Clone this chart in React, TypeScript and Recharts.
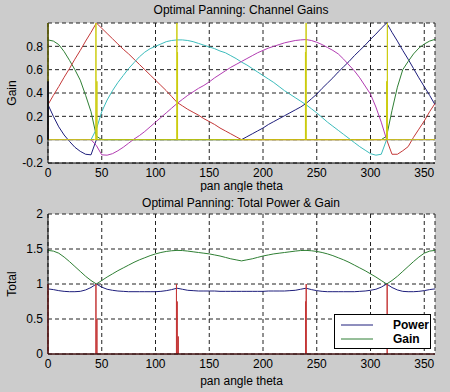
import { CartesianGrid, Line, LineChart, XAxis, YAxis } from "recharts";

// pan angle, 5 degree steps
const THETA = [
  0, 5, 10, 15, 20, 25, 30, 35, 40, 45, 50, 55, 60, 65, 70, 75, 80, 85, 90, 95,
  100, 105, 110, 115, 120, 125, 130, 135, 140, 145, 150, 155, 160, 165, 170,
  175, 180, 185, 190, 195, 200, 205, 210, 215, 220, 225, 230, 235, 240, 245,
  250, 255, 260, 265, 270, 275, 280, 285, 290, 295, 300, 305, 310, 315, 320,
  325, 330, 335, 340, 345, 350, 355, 360,
];

// channel gains (top plot)
const CH_BLUE = [
  0.3, 0.2, 0.11, 0.04, -0.015, -0.065, -0.1, -0.125, -0.13, 0,
  0, 0, 0, 0, 0, 0, 0, 0, 0, 0, 0, 0, 0, 0, 0, 0, 0, 0, 0, 0, 0, 0, 0, 0, 0, 0,
  0, 0.025, 0.05, 0.075, 0.1, 0.13, 0.155, 0.18, 0.205, 0.23, 0.255, 0.28,
  0.31, 0.35, 0.39, 0.44, 0.485, 0.53, 0.58, 0.625, 0.67, 0.72, 0.765, 0.81,
  0.86, 0.905, 0.955, 1.0, 0.92, 0.845, 0.765, 0.69, 0.61, 0.53, 0.455, 0.38,
  0.3,
];
const CH_GREEN = [
  0.855, 0.845, 0.815, 0.755, 0.68, 0.6, 0.51, 0.38, 0.24, 0.03,
  0, 0, 0, 0, 0, 0, 0, 0, 0, 0, 0, 0, 0, 0, 0, 0, 0, 0, 0, 0, 0, 0, 0, 0, 0, 0,
  0, 0, 0, 0, 0, 0, 0, 0, 0, 0, 0, 0, 0, 0, 0, 0, 0, 0, 0, 0, 0, 0, 0, 0, 0, 0,
  0, 0.03, 0.25, 0.45, 0.6, 0.67, 0.735, 0.785, 0.82, 0.845, 0.86,
];
const CH_RED = [
  0.3, 0.38, 0.455, 0.535, 0.61, 0.69, 0.765, 0.845, 0.92, 1.0, 0.955, 0.91,
  0.865, 0.82, 0.775, 0.735, 0.69, 0.645, 0.6, 0.555, 0.51, 0.465, 0.42, 0.37,
  0.32, 0.29, 0.26, 0.235, 0.21, 0.18, 0.155, 0.13, 0.1, 0.075, 0.05, 0.025, 0,
  0, 0, 0, 0, 0, 0, 0, 0, 0, 0, 0, 0, 0, 0, 0, 0, 0, 0, 0, 0, 0, 0, 0, 0, 0, 0,
  0, -0.125, -0.125, -0.095, -0.06, 0.02, 0.09, 0.16, 0.24, 0.31,
];
const CH_CYAN = [
  0, 0, 0, 0, 0, 0, 0, 0, 0, 0.09, 0.24, 0.34, 0.42, 0.49, 0.55, 0.61, 0.66,
  0.71, 0.75, 0.78, 0.8, 0.82, 0.84, 0.85, 0.855, 0.855, 0.85, 0.84, 0.825,
  0.81, 0.795, 0.78, 0.76, 0.745, 0.72, 0.695, 0.665, 0.64, 0.61, 0.58, 0.55,
  0.52, 0.49, 0.455, 0.42, 0.39, 0.36, 0.33, 0.3, 0.265, 0.23, 0.19, 0.15,
  0.115, 0.08, 0.045, 0.01, -0.025, -0.06, -0.09, -0.12, -0.133, -0.125, 0,
  0, 0, 0, 0, 0, 0, 0, 0, 0,
];
const CH_MAGENTA = [
  0, 0, 0, 0, 0, 0, 0, 0, 0, -0.05, -0.13, -0.133, -0.12, -0.095, -0.065,
  -0.03, 0.005, 0.035, 0.07, 0.11, 0.15, 0.19, 0.23, 0.27, 0.31, 0.345, 0.38,
  0.41, 0.44, 0.465, 0.495, 0.53, 0.56, 0.59, 0.62, 0.645, 0.67, 0.695, 0.72,
  0.745, 0.765, 0.785, 0.8, 0.815, 0.83, 0.84, 0.85, 0.855, 0.858, 0.85, 0.835,
  0.815, 0.79, 0.765, 0.735, 0.69, 0.64, 0.59, 0.53, 0.46, 0.39, 0.28, 0.15, 0,
  0, 0, 0, 0, 0, 0, 0, 0, 0,
];

// glitches at the speaker angles
const YELLOW_SPIKE_AT = [0, 44.6, 45.5, 119.9, 120.5, 239.5, 240.1, 315.1, 315.7];
const YELLOW_SPIKE_TOP = [1, 1, 0.5, 1, 0.75, 0.75, 1, 0.5, 1];
const BLUE_SPIKE_AT = [0];
const BLUE_SPIKE_TOP = [0.5];

// totals (bottom plot)
const TOTAL_POWER = [
  0.93, 0.92, 0.905, 0.895, 0.89, 0.89, 0.895, 0.915, 0.95, 1.0, 0.955, 0.925,
  0.91, 0.9, 0.895, 0.89, 0.89, 0.89, 0.89, 0.89, 0.89, 0.895, 0.905, 0.92,
  0.94, 0.925, 0.91, 0.905, 0.9, 0.9, 0.9, 0.9, 0.895, 0.895, 0.895, 0.895,
  0.895, 0.895, 0.895, 0.895, 0.895, 0.9, 0.9, 0.9, 0.9, 0.905, 0.91, 0.925,
  0.94, 0.92, 0.905, 0.895, 0.89, 0.89, 0.89, 0.89, 0.89, 0.89, 0.895, 0.9,
  0.91, 0.925, 0.955, 1.0, 0.95, 0.915, 0.895, 0.89, 0.89, 0.895, 0.905, 0.92,
  0.93,
];
const TOTAL_GAIN = [
  1.48, 1.47, 1.44, 1.385, 1.32, 1.25, 1.18, 1.11, 1.05, 1.0, 1.05, 1.1, 1.145,
  1.19, 1.23, 1.27, 1.31, 1.345, 1.375, 1.405, 1.43, 1.45, 1.465, 1.475, 1.48,
  1.478, 1.47, 1.46, 1.45, 1.44, 1.43, 1.415, 1.4, 1.38, 1.36, 1.345, 1.33,
  1.345, 1.36, 1.38, 1.4, 1.415, 1.43, 1.44, 1.45, 1.46, 1.47, 1.478, 1.48,
  1.475, 1.465, 1.45, 1.43, 1.405, 1.375, 1.345, 1.31, 1.27, 1.23, 1.19, 1.145,
  1.1, 1.05, 1.0, 1.05, 1.11, 1.18, 1.25, 1.32, 1.385, 1.44, 1.47, 1.48,
];
const RED_SPIKE_AT = [0, 44.6, 45.5, 119.5, 120.2, 121.2, 239.6, 240.2, 315.5];
const RED_SPIKE_TOP = [1, 1, 0.5, 1, 0.75, 0.25, 0.75, 1, 1];

const X_TICKS = [0, 50, 100, 150, 200, 250, 300, 350];
const GAIN_TICKS = [-0.2, 0, 0.2, 0.4, 0.6, 0.8];
const TOTAL_TICKS = [0, 0.5, 1, 1.5, 2];

const BLUE = "#1e1e7c";
const GREEN = "#2f7f34";
const RED = "#c43838";
const CYAN = "#3cbcbc";
const MAGENTA = "#b23cb2";
const YELLOW = "#cccc10";
const FIG_BG = "#cccccc";
const FONT = "'Liberation Sans', Arial, Helvetica, sans-serif";

const channelRows = THETA.map((t, i) => ({
  t,
  blue: CH_BLUE[i],
  green: CH_GREEN[i],
  red: CH_RED[i],
  cyan: CH_CYAN[i],
  magenta: CH_MAGENTA[i],
}));

const totalRows = THETA.map((t, i) => ({
  t,
  power: TOTAL_POWER[i],
  gain: TOTAL_GAIN[i],
}));

// zero line with vertical spikes at the given angles
function spikeRows(at: number[], top: number[], from: number, to: number) {
  const rows = [{ t: from, v: 0 }];
  at.forEach((t, i) => {
    rows.push({ t, v: 0 }, { t, v: top[i] }, { t, v: 0 });
  });
  rows.push({ t: to, v: 0 });
  return rows;
}

const tick = { fontSize: 12, fill: "#000", fontFamily: FONT };
const axisLine = { stroke: "#000", strokeWidth: 1 };
const xLabel = {
  value: "pan angle theta",
  position: "insideBottom" as const,
  fontSize: 12,
  fill: "#000",
  fontFamily: FONT,
};

function Caption({ text, x, y, rotate }: { text: string; x: number; y: number; rotate?: boolean }) {
  return (
    <div
      style={{
        position: "absolute",
        left: x,
        top: y,
        transform: `translate(-50%, -50%)${rotate ? " rotate(-90deg)" : ""}`,
        whiteSpace: "nowrap",
        fontFamily: FONT,
        fontSize: 12,
        color: "#000",
        lineHeight: "13px",
      }}
    >
      {text}
    </div>
  );
}

function LegendBox() {
  const rows = [
    { name: "Power", color: BLUE },
    { name: "Gain", color: GREEN },
  ];
  return (
    <div
      style={{
        position: "absolute",
        left: 334,
        top: 314,
        width: 95,
        height: 30,
        background: "#fff",
        border: "1px solid #000",
        paddingTop: 3,
        boxSizing: "content-box",
        fontFamily: FONT,
      }}
    >
      {rows.map((r) => (
        <div key={r.name} style={{ display: "flex", alignItems: "center", height: 14 }}>
          <svg width={50} height={14} style={{ display: "block" }}>
            <line x1={6} x2={38} y1={7} y2={7} stroke={r.color} strokeWidth={1} />
          </svg>
          <span style={{ fontSize: 12, fontWeight: "bold", lineHeight: "14px", marginLeft: 8 }}>
            {r.name}
          </span>
        </div>
      ))}
    </div>
  );
}

function ChannelGains() {
  return (
    <LineChart
      width={450}
      height={192}
      data={channelRows}
      margin={{ top: 23, right: 15, bottom: 0, left: 0 }}
    >
      <CartesianGrid fill="#fff" stroke="#222" strokeDasharray="4 3" />
      <XAxis
        dataKey="t"
        type="number"
        domain={[0, 360]}
        ticks={X_TICKS}
        height={29}
        tickSize={0}
        tickMargin={5}
        tickLine={false}
        axisLine={axisLine}
        tick={tick}
        label={{ ...xLabel, offset: 2 }}
      />
      <XAxis xAxisId="box" orientation="top" type="number" domain={[0, 360]} height={0} tick={false} tickLine={false} axisLine={axisLine} />
      <YAxis
        type="number"
        domain={[-0.2, 1]}
        ticks={GAIN_TICKS}
        width={48}
        tickSize={0}
        tickMargin={5}
        tickLine={false}
        axisLine={axisLine}
        tick={tick}
      />
      <YAxis yAxisId="box" orientation="right" type="number" domain={[-0.2, 1]} width={0} tick={false} tickLine={false} axisLine={axisLine} />
      <Line dataKey="blue" stroke={BLUE} dot={false} isAnimationActive={false} />
      <Line dataKey="green" stroke={GREEN} dot={false} isAnimationActive={false} />
      <Line dataKey="red" stroke={RED} dot={false} isAnimationActive={false} />
      <Line dataKey="cyan" stroke={CYAN} dot={false} isAnimationActive={false} />
      <Line dataKey="magenta" stroke={MAGENTA} dot={false} isAnimationActive={false} />
      <Line
        data={spikeRows(YELLOW_SPIKE_AT, YELLOW_SPIKE_TOP, 0, 360)}
        dataKey="v"
        stroke={YELLOW}
        dot={false}
        isAnimationActive={false}
      />
      <Line
        data={spikeRows(BLUE_SPIKE_AT, BLUE_SPIKE_TOP, 0, 0)}
        dataKey="v"
        stroke="#000030"
        strokeWidth={1.5}
        dot={false}
        isAnimationActive={false}
      />
    </LineChart>
  );
}

function TotalPowerGain() {
  return (
    <LineChart
      width={450}
      height={202}
      data={totalRows}
      margin={{ top: 24, right: 15, bottom: 0, left: 0 }}
    >
      <CartesianGrid fill="#fff" stroke="#222" strokeDasharray="4 3" />
      <XAxis
        dataKey="t"
        type="number"
        domain={[0, 360]}
        ticks={X_TICKS}
        height={38}
        tickSize={0}
        tickMargin={5}
        tickLine={false}
        axisLine={axisLine}
        tick={tick}
        label={{ ...xLabel, offset: 7 }}
      />
      <XAxis xAxisId="box" orientation="top" type="number" domain={[0, 360]} height={0} tick={false} tickLine={false} axisLine={axisLine} />
      <YAxis
        type="number"
        domain={[0, 2]}
        ticks={TOTAL_TICKS}
        width={48}
        tickSize={0}
        tickMargin={5}
        tickLine={false}
        axisLine={axisLine}
        tick={tick}
      />
      <YAxis yAxisId="box" orientation="right" type="number" domain={[0, 2]} width={0} tick={false} tickLine={false} axisLine={axisLine} />
      <Line dataKey="power" stroke={BLUE} dot={false} isAnimationActive={false} />
      <Line dataKey="gain" stroke={GREEN} dot={false} isAnimationActive={false} />
      <Line
        data={spikeRows(RED_SPIKE_AT, RED_SPIKE_TOP, 0, 360)}
        dataKey="v"
        stroke={RED}
        dot={false}
        isAnimationActive={false}
      />
    </LineChart>
  );
}

export default function App() {
  return (
    <div
      style={{
        position: "absolute",
        left: 0,
        top: 0,
        width: 450,
        height: 392,
        background: FIG_BG,
        overflow: "hidden",
      }}
    >
      <div style={{ position: "absolute", left: 0, top: 0 }}>
        <ChannelGains />
      </div>
      <div style={{ position: "absolute", left: 0, top: 190 }}>
        <TotalPowerGain />
      </div>
      <Caption text="Optimal Panning: Channel Gains" x={241} y={10} />
      <Caption text="Optimal Panning: Total Power & Gain" x={241} y={203} />
      <Caption text="Gain" x={12} y={93} rotate />
      <Caption text="Total" x={12} y={284} rotate />
      <LegendBox />
    </div>
  );
}
